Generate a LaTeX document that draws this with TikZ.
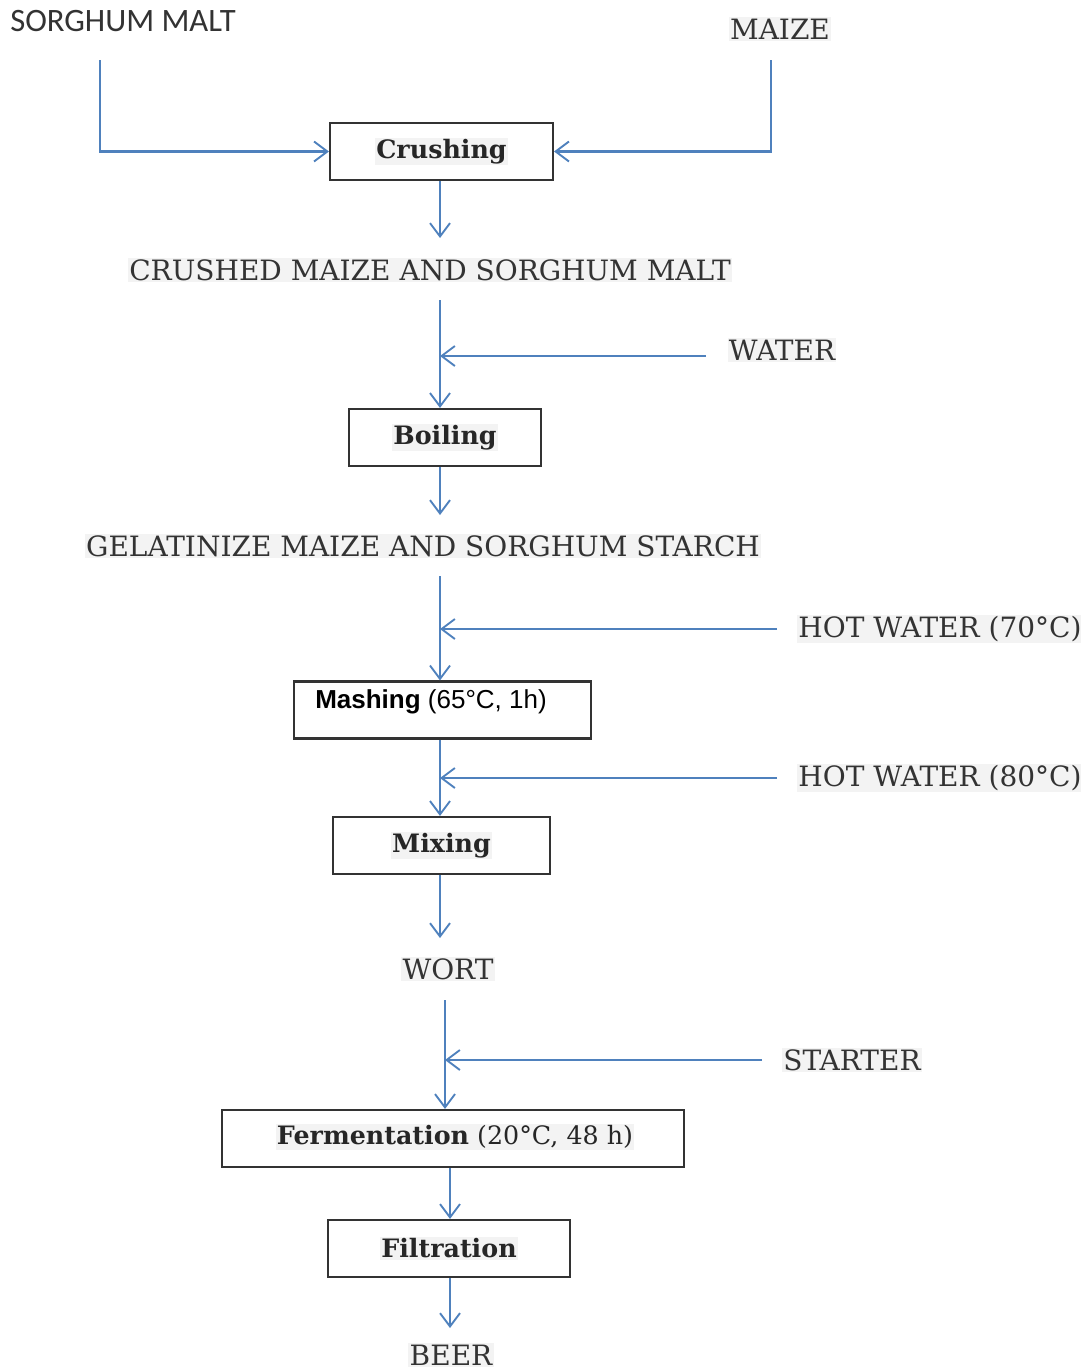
\documentclass[tikz,border=0pt]{standalone}
\usepackage{fontspec}
\setmainfont{DejaVu Serif}
\newfontfamily\arialf{Liberation Sans}
\newfontfamily\calf{Carlito}
\usetikzlibrary{arrows.meta}
\definecolor{flow}{HTML}{4F81BD}
\definecolor{ink}{HTML}{333333}
\definecolor{hl}{HTML}{F3F3F3}
\tikzset{
  arr/.style={draw=flow, line width=1.7pt, -{Straight Barb[length=10pt,width=15pt,line width=1.4pt]}},
  lbl/.style={fill=hl, text=ink, inner sep=1pt, font=\fontsize{21}{24}\selectfont},
  boxn/.style={draw=ink, line width=1.6pt, fill=white, minimum height=42.75pt, inner sep=0pt},
  btxt/.style={fill=hl, text=black!85, inner sep=1pt, font=\fontsize{19}{22}\selectfont\bfseries}
}
\begin{document}
\begin{tikzpicture}[x=0.75pt,y=-0.75pt]
\useasboundingbox (0,0) rectangle (1081,1371);
% labels
\node[text=ink, inner sep=0pt, anchor=west, font=\calf\fontsize{24.5}{27}\selectfont] (sm) at (10,21) {SORGHUM MALT};
\node[lbl] (maize) at (780,29) {MAIZE};
\node[lbl] (crushed) at (430,270) {CRUSHED MAIZE AND SORGHUM MALT};
\node[lbl] (water) at (782,350) {WATER};
\node[lbl] (gel) at (423,546) {GELATINIZE MAIZE AND SORGHUM STARCH};
\node[lbl] (hw70) at (940,629) {HOT WATER (70\textdegree C)};
\node[lbl] (hw80) at (940,778) {HOT WATER (80\textdegree C)};
\node[lbl] (wort) at (448,969) {WORT};
\node[lbl] (starter) at (852,1060) {STARTER};
\node[lbl] (beer) at (451,1355) {BEER};
% boxes
\node[boxn, minimum width=167.25pt] (crush) at (441.5,151.5) {};
\node[btxt] at (crush.center) {Crushing};
\node[boxn, minimum width=144pt] (boil) at (445,437.5) {};
\node[btxt] at (boil.center) {Boiling};
\node[boxn, minimum width=222.75pt] (mash) at (442.5,710) {};
\node[inner sep=0pt, font=\arialf\fontsize{19.5}{23}\selectfont] at (431,702) {\textbf{Mashing} (65\textdegree C, 1h)};
\node[boxn, minimum width=162.75pt] (mix) at (441.5,845.5) {};
\node[btxt] at (mix.center) {Mixing};
\node[boxn, minimum width=346.5pt] (ferm) at (453,1138.5) {};
\node[fill=hl, text=black!85, inner sep=1pt, font=\fontsize{19}{22}\selectfont] at (455,1137) {\textbf{Fermentation} (20\textdegree C, 48 h)};
\node[boxn, minimum width=181.5pt] (filt) at (449,1248.5) {};
\node[btxt] at (filt.center) {Filtration};
% coordinates
\coordinate (smS) at (100,60);
\coordinate (mzS) at (771,60);
\coordinate (c1) at (440,238);
\coordinate (c2s) at (440,300);
\coordinate (w1) at (706,356);
\coordinate (c3) at (440,515);
\coordinate (c4s) at (440,576);
\coordinate (h1) at (777,629);
\coordinate (h2) at (777,778);
\coordinate (c5) at (440,938);
\coordinate (c6s) at (445,1000);
\coordinate (s1) at (762,1060);
\coordinate (c7) at (450,1328);
% connectors
\draw[arr] (smS) |- (crush.west);
\draw[arr] (mzS) |- (crush.east);
\draw[arr] (crush.south -| c1) -- (c1);
\draw[arr] (c2s) -- (boil.north -| c2s);
\draw[arr] (w1) -- (w1 -| c2s);
\draw[arr] (boil.south -| c3) -- (c3);
\draw[arr] (c4s) -- (mash.north -| c4s);
\draw[arr] (h1) -- (h1 -| c4s);
\draw[arr] (mash.south -| c4s) -- (mix.north -| c4s);
\draw[arr] (h2) -- (h2 -| c4s);
\draw[arr] (mix.south -| c5) -- (c5);
\draw[arr] (c6s) -- (ferm.north -| c6s);
\draw[arr] (s1) -- (s1 -| c6s);
\draw[arr] (ferm.south -| c7) -- (filt.north -| c7);
\draw[arr] (filt.south -| c7) -- (c7);
\end{tikzpicture}
\end{document}
